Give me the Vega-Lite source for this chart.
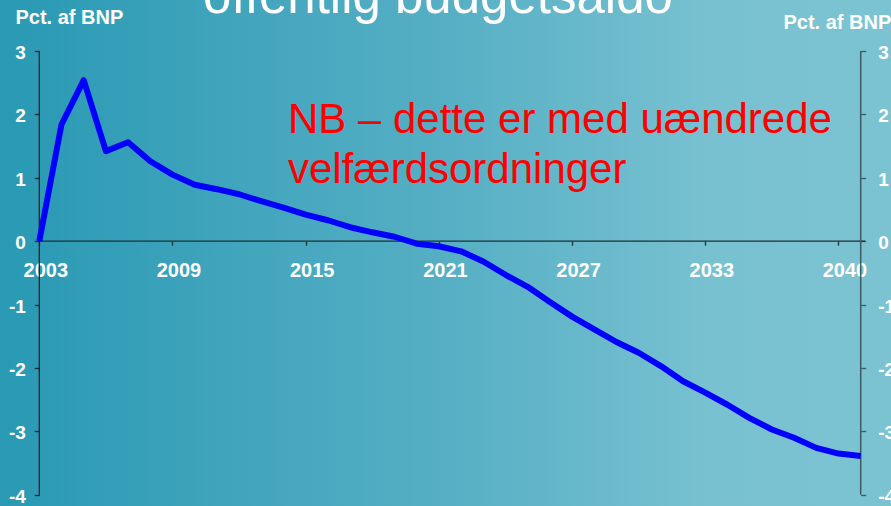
{
  "$schema": "https://vega.github.io/schema/vega-lite/v6.json",
  "width": 891,
  "height": 506,
  "padding": 0,
  "autosize": {"type": "none"},
  "background": "#55aec3",
  "view": {
    "stroke": null,
    "fill": {
      "gradient": "linear", "x1": 0, "y1": 0, "x2": 1, "y2": 0,
      "stops": [
        {"offset": 0, "color": "#2999b4"},
        {"offset": 0.5, "color": "#56afc4"},
        {"offset": 0.8, "color": "#78c1d1"},
        {"offset": 1, "color": "#7cc3d2"}
      ]
    }
  },
  "datasets": {
    "saldo": [
      {"year": 2003, "saldo": 0.0},
      {"year": 2004, "saldo": 1.84},
      {"year": 2005, "saldo": 2.54},
      {"year": 2006, "saldo": 1.42},
      {"year": 2007, "saldo": 1.56},
      {"year": 2008, "saldo": 1.26},
      {"year": 2009, "saldo": 1.05},
      {"year": 2010, "saldo": 0.89},
      {"year": 2011, "saldo": 0.82},
      {"year": 2012, "saldo": 0.74},
      {"year": 2013, "saldo": 0.63},
      {"year": 2014, "saldo": 0.53},
      {"year": 2015, "saldo": 0.42},
      {"year": 2016, "saldo": 0.33},
      {"year": 2017, "saldo": 0.22},
      {"year": 2018, "saldo": 0.14},
      {"year": 2019, "saldo": 0.07},
      {"year": 2020, "saldo": -0.04},
      {"year": 2021, "saldo": -0.08},
      {"year": 2022, "saldo": -0.16},
      {"year": 2023, "saldo": -0.32},
      {"year": 2024, "saldo": -0.53},
      {"year": 2025, "saldo": -0.72},
      {"year": 2026, "saldo": -0.96},
      {"year": 2027, "saldo": -1.19},
      {"year": 2028, "saldo": -1.39},
      {"year": 2029, "saldo": -1.59},
      {"year": 2030, "saldo": -1.76},
      {"year": 2031, "saldo": -1.97},
      {"year": 2032, "saldo": -2.21},
      {"year": 2033, "saldo": -2.39},
      {"year": 2034, "saldo": -2.58},
      {"year": 2035, "saldo": -2.79},
      {"year": 2036, "saldo": -2.97},
      {"year": 2037, "saldo": -3.10},
      {"year": 2038, "saldo": -3.26},
      {"year": 2039, "saldo": -3.35},
      {"year": 2040, "saldo": -3.39}
    ],
    "one": [{}]
  },
  "layer": [
    {
      "data": {"name": "one"},
      "mark": {"type": "rule", "color": "#1c2f35", "strokeWidth": 1.3},
      "encoding": {
        "x": {"datum": 2003, "type": "quantitative", "scale": {"domain": [2001.2297, 2041.365], "nice": false, "zero": false}},
        "x2": {"datum": 2040.2},
        "y": {"datum": 0, "type": "quantitative", "scale": {"domain": [-4.177, 3.804], "nice": false, "zero": false}, "axis": null}
      }
    },
    {
      "data": {"name": "one"},
      "mark": {"type": "rule", "color": "#14262b", "strokeWidth": 1.3},
      "encoding": {
        "x": {"datum": 2003, "type": "quantitative", "scale": {"domain": [2001.2297, 2041.365], "nice": false, "zero": false}},
        "y": {"datum": 3, "type": "quantitative", "scale": {"domain": [-4.177, 3.804], "nice": false, "zero": false}, "axis": null},
        "y2": {"datum": -4}
      }
    },
    {
      "data": {"name": "one"},
      "mark": {"type": "rule", "color": "#3b5a61", "strokeWidth": 1.5},
      "encoding": {
        "x": {"datum": 2040, "type": "quantitative", "scale": {"domain": [2001.2297, 2041.365], "nice": false, "zero": false}},
        "y": {"datum": 3, "type": "quantitative", "scale": {"domain": [-4.177, 3.804], "nice": false, "zero": false},
          "axis": {
            "orient": "right", "offset": -30.3, "values": [-4, -3, -2, -1, 0, 1, 2, 3],
            "labelExpr": "'' + datum.value",
            "domain": false, "grid": false, "ticks": true, "tickSize": 5, "tickColor": "#3b5a61", "tickWidth": 1.3,
            "labelFont": "Liberation Sans", "labelFontSize": 19, "labelFontWeight": "bold", "labelColor": "white",
            "labelPadding": 12, "labelOffset": 1.5, "labelOverlap": false, "labelBound": false, "labelFlush": false,
            "title": "Pct. af BNP", "titleAngle": 0, "titleX": -77.7, "titleY": 28, "titleAlign": "left", "titleBaseline": "alphabetic",
            "titleFont": "Liberation Sans", "titleFontSize": 20, "titleFontWeight": "bold", "titleColor": "white"
          }
        },
        "y2": {"datum": -4}
      }
    },
    {
      "data": {"name": "saldo"},
      "mark": {"type": "line", "color": "#0000ff", "strokeWidth": 6, "strokeJoin": "round", "strokeCap": "butt"},
      "encoding": {
        "x": {"field": "year", "type": "quantitative", "scale": {"domain": [2001.2297, 2041.365], "nice": false, "zero": false},
          "axis": {
            "orient": "bottom", "offset": -264.8, "values": [2003, 2009, 2015, 2021, 2027, 2033, 2039],
            "labelExpr": "datum.value == 2039 ? '2040' : '' + datum.value",
            "domain": false, "grid": false, "ticks": true, "tickSize": 4, "tickColor": "#1c2f35", "tickWidth": 1.3,
            "labelFont": "Liberation Sans", "labelFontSize": 20, "labelFontWeight": "bold", "labelColor": "white",
            "labelPadding": 15, "labelOffset": 6, "labelOverlap": false, "labelBound": false, "labelFlush": false,
            "title": null
          }
        },
        "y": {"field": "saldo", "type": "quantitative", "scale": {"domain": [-4.177, 3.804], "nice": false, "zero": false},
          "axis": {
            "orient": "left", "offset": -39.3, "values": [-4, -3, -2, -1, 0, 1, 2, 3],
            "labelExpr": "'' + datum.value",
            "domain": false, "grid": false, "ticks": true, "tickSize": 5, "tickColor": "#14262b", "tickWidth": 1.3,
            "labelFont": "Liberation Sans", "labelFontSize": 19, "labelFontWeight": "bold", "labelColor": "white",
            "labelPadding": 9, "labelOffset": 1.5, "labelOverlap": false, "labelBound": false, "labelFlush": false,
            "title": "Pct. af BNP", "titleAngle": 0, "titleX": -24.3, "titleY": 23, "titleAlign": "left", "titleBaseline": "alphabetic",
            "titleFont": "Liberation Sans", "titleFontSize": 20, "titleFontWeight": "bold", "titleColor": "white"
          }
        }
      }
    },
    {
      "data": {"name": "one"},
      "mark": {"type": "text", "align": "left", "baseline": "alphabetic", "font": "Liberation Sans", "fontSize": 42, "color": "#ff0000", "lineHeight": 50.6,
        "text": ["NB – dette er med uændrede", "velfærdsordninger"]},
      "encoding": {
        "x": {"datum": 2014.2, "type": "quantitative", "scale": {"domain": [2001.2297, 2041.365], "nice": false, "zero": false}},
        "y": {"datum": 1.711, "type": "quantitative", "scale": {"domain": [-4.177, 3.804], "nice": false, "zero": false}, "axis": null}
      }
    },
    {
      "data": {"name": "one"},
      "mark": {"type": "text", "align": "center", "baseline": "alphabetic", "font": "Liberation Sans", "fontSize": 51, "color": "white",
        "text": "offentlig budgetsaldo"},
      "encoding": {
        "x": {"datum": 2020.96, "type": "quantitative", "scale": {"domain": [2001.2297, 2041.365], "nice": false, "zero": false}},
        "y": {"datum": 3.592, "type": "quantitative", "scale": {"domain": [-4.177, 3.804], "nice": false, "zero": false}, "axis": null}
      }
    }
  ],
  "resolve": {"axis": {"y": "independent"}}
}
